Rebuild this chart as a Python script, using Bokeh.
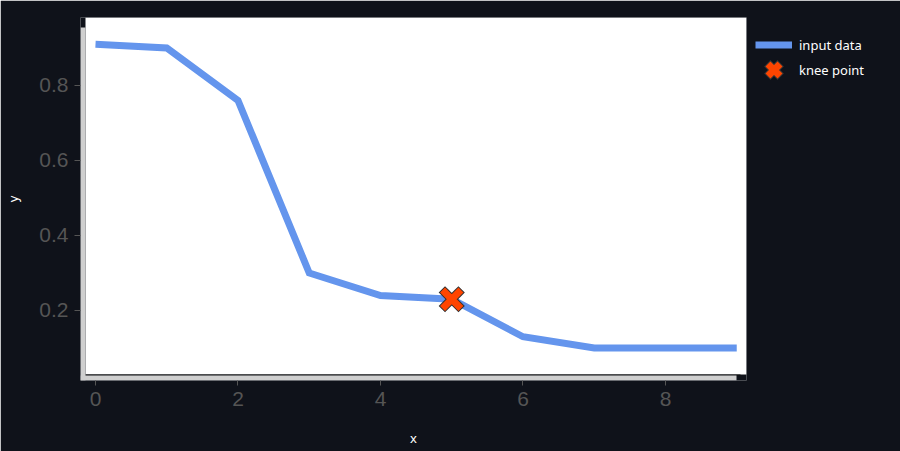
from bokeh.plotting import figure
from bokeh.models import Range1d, Legend, LegendItem, BoxAnnotation
from bokeh.embed import file_html
from bokeh.resources import INLINE

# data
xs = [0, 1, 2, 3, 4, 5, 6, 7, 8, 9]
ys = [0.91, 0.90, 0.76, 0.30, 0.24, 0.23, 0.13, 0.10, 0.10, 0.10]
knee_x = [5]
knee_y = [0.23]

x_ticks = [0, 2, 4, 6, 8]
y_ticks = [0.2, 0.4, 0.6, 0.8]

bg = "#0f121a"
tick_col = "#555555"
band_col = "#cfcfcf"

# the frame includes the light axis bands; the white area is drawn inside it
p = figure(frame_width=666, frame_height=363,
           min_border_left=80, min_border_right=154,
           min_border_top=17, min_border_bottom=71,
           x_range=Range1d(-0.2105, 9.137), y_range=Range1d(0.01333, 0.9813),
           output_backend="svg", toolbar_location=None, tools="")

p.background_fill_color = bg
p.border_fill_color = bg
p.outline_line_color = None
p.xgrid.grid_line_color = None
p.ygrid.grid_line_color = None

for ax in (p.xaxis[0], p.yaxis[0]):
    ax.axis_line_color = None
    ax.major_tick_in = 0
    ax.minor_tick_line_color = None
    ax.major_tick_line_color = tick_col
    ax.major_label_text_color = tick_col
    ax.major_label_text_font = "Liberation Sans"
    ax.major_label_text_font_size = "21px"
    ax.major_label_standoff = 6
    ax.axis_label_text_color = "white"
    ax.axis_label_text_font = "Noto Sans"
    ax.axis_label_text_font_size = "13px"
    ax.axis_label_text_font_style = "normal"

p.xaxis.major_tick_out = 5
p.yaxis.major_tick_out = 6
p.xaxis.ticker = x_ticks
p.yaxis.ticker = y_ticks
p.xaxis.axis_label = "x"
p.yaxis.axis_label = "y"
p.xaxis.axis_label_standoff = 20
p.yaxis.axis_label_standoff = 14

def band(l, r, t, b, color):
    return BoxAnnotation(left=l, right=r, top=t, bottom=b,
                         left_units="canvas", right_units="canvas",
                         top_units="canvas", bottom_units="canvas",
                         fill_color=color, fill_alpha=1, line_color=None,
                         level="underlay")

p.add_layout(band(85, 746, 17, 374, "white"))
p.add_layout(band(85, 740, 374, 375, "#111111"))
p.add_layout(band(80, 736, 375, 380, band_col))
p.add_layout(band(80, 85, 27, 380, band_col))

line = p.line(xs, ys, line_color="cornflowerblue", line_width=7, line_join="miter")
k1 = p.scatter(knee_x, knee_y, marker="x", size=19, line_color="#333333",
               line_width=9, line_cap="square")
k2 = p.scatter(knee_x, knee_y, marker="x", size=19, line_color="orangered",
               line_width=7, line_cap="square")

legend = Legend(items=[LegendItem(label="input data", renderers=[line]),
                       LegendItem(label="knee point", renderers=[k1, k2])],
                location=(9, 298))
legend.border_line_color = None
legend.background_fill_alpha = 0
legend.padding = 0
legend.margin = 0
legend.spacing = 0
legend.glyph_width = 37
legend.glyph_height = 25
legend.label_height = 25
legend.label_standoff = 7
legend.label_text_color = "white"
legend.label_text_font = "Noto Sans"
legend.label_text_font_size = "13px"
p.add_layout(legend, "right")

open("out.html", "w").write(file_html(p, INLINE))
